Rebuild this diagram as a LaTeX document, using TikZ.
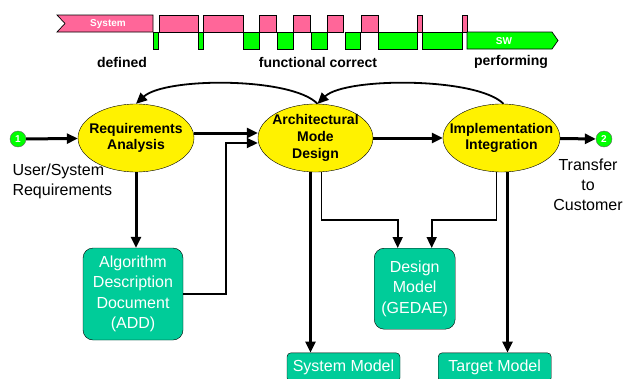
\documentclass[tikz,border=0pt]{standalone}
\usepackage{fontspec}
\setmainfont{Liberation Sans}
\usetikzlibrary{shapes.geometric,arrows.meta}

\begin{document}
\begin{tikzpicture}[
        x=1pt, y=-1pt,
        phase/.style={ellipse, draw=black, thin, fill=yellow, minimum width=116pt, minimum height=68pt, inner sep=0pt},
        phase_text/.style={align=center, inner sep=0pt, font=\bfseries\fontsize{14}{16.7}\selectfont},
        doc/.style={rectangle, rounded corners=10pt, draw=black, thin, fill=docgreen, text=white, inner sep=0pt, align=center, font=\fontsize{16}{20.3}\selectfont},
        model/.style={doc, rounded corners=4pt, minimum width=113pt, minimum height=29pt},
        endpoint/.style={circle, draw=black!60, thin, fill=brightgreen, text=white, minimum size=16pt, inner sep=0pt, font=\bfseries\fontsize{10}{10}\selectfont},
        plain_label/.style={align=center, font=\fontsize{16}{20}\selectfont},
        bar_label/.style={font=\bfseries\fontsize{14}{14}\selectfont},
        tag/.style={text=white, font=\bfseries\fontsize{10}{10}\selectfont},
        sysbar/.style={fill=syspink, draw=black, line width=0.7pt},
        swbar/.style={fill=brightgreen, draw=black, line width=0.7pt},
        flow/.style={line width=3pt, -{Triangle[length=11pt, width=10pt]}},
        link/.style={line width=1.8pt, -{Triangle[length=11pt, width=10pt]}}
    ]

        \definecolor{syspink}{RGB}{255, 102, 153}
        \definecolor{brightgreen}{RGB}{0, 255, 0}
        \definecolor{docgreen}{RGB}{0, 204, 153}

        \useasboundingbox (0,0) rectangle (624,378);
        \clip (0,0) rectangle (624,378);

        % maturity bar
        \filldraw[sysbar] (57,15) -- (153,15) -- (153,32) -- (57,32) -- (65,23.5) -- cycle;
        \foreach \a/\b in {159/198, 203/243, 259/276, 293/310, 327/343, 361/378, 417/422, 462/467}
            \filldraw[sysbar] (\a,15) rectangle (\b,32);
        \foreach \a/\b in {153/158, 198/203, 243/259, 277/293, 311/327, 345/360, 378/417, 422/462}
            \filldraw[swbar] (\a,32) rectangle (\b,49);
        \filldraw[swbar] (467,32) -- (552,32) -- (558,40.5) -- (552,49) -- (467,49) -- cycle;

        \node[tag] (systag) at (108,24) {System};
        \node[tag] (swtag) at (504,41) {SW};

        \node[bar_label] (defined) at (122,62) {defined};
        \node[bar_label] (functional) at (318,62) {functional correct};
        \node[bar_label] (performing) at (511,62) {performing};

        % process
        \node[endpoint] (start) at (18,139) {1};
        \node[endpoint] (finish) at (604,139) {2};

        \node[phase] (req) at (136,138) {};
        \node[phase_text] (reqtext) at (req) {Requirements\\Analysis};
        \node[phase, minimum width=115pt] (arch) at (315.5,138) {};
        \node[phase_text] (archtext) at (arch) {Architectural\\Mode\\Design};
        \node[phase, minimum width=117pt] (impl) at (501.5,138) {};
        \node[phase_text] (impltext) at (impl) {Implementation\\Integration};

        \node[plain_label, anchor=west, align=left] (userreq) at (9,181) {User/System\\Requirements};
        \node[plain_label] (transfer) at (588,185) {Transfer\\to\\Customer};

        \node[doc, minimum width=100pt, minimum height=92pt] (add) at (133,294) {Algorithm\\Description\\Document\\(ADD)};
        \node[doc, minimum width=81pt, minimum height=81pt] (design) at (414.7,288.7) {Design\\Model\\(GEDAE)};
        \node[model] (sysmodel) at (343.5,367.3) {System Model};
        \node[model] (targetmodel) at (494.7,367.3) {Target Model};

        \coordinate (addturn) at (226,143);

        \draw[flow] (start) -- (req);
        \draw[flow] ([yshift=5pt]req.east) -- ([yshift=5pt]arch.west);
        \draw[flow] (arch) -- (impl);
        \draw[flow] (impl) -- (finish);

        \draw[link] (add.east) -| (addturn) -- ([yshift=-5pt]arch.west);

        \draw[link] ([xshift=2pt]arch.north) .. controls (292,77) and (165,77) .. (req.north);
        \draw[link] ([xshift=2pt]impl.north) .. controls (477,77) and (345,77) .. ([xshift=2pt]arch.north);

        \draw[flow] (req.south) -- (req.south |- add.north);
        \draw[flow] ([xshift=-5pt]arch.south) -- ([xshift=-5pt]arch.south |- sysmodel.north);
        \draw[link] ([xshift=6pt]arch.south) |- ([xshift=-17pt, yshift=28pt]design.north) -- ([xshift=-17pt]design.north);
        \draw[link] ([xshift=-5pt]impl.south) |- ([xshift=17pt, yshift=28pt]design.north) -- ([xshift=17pt]design.north);
        \draw[flow] ([xshift=6pt]impl.south) -- ([xshift=6pt]impl.south |- targetmodel.north);
    \end{tikzpicture}
\end{document}
